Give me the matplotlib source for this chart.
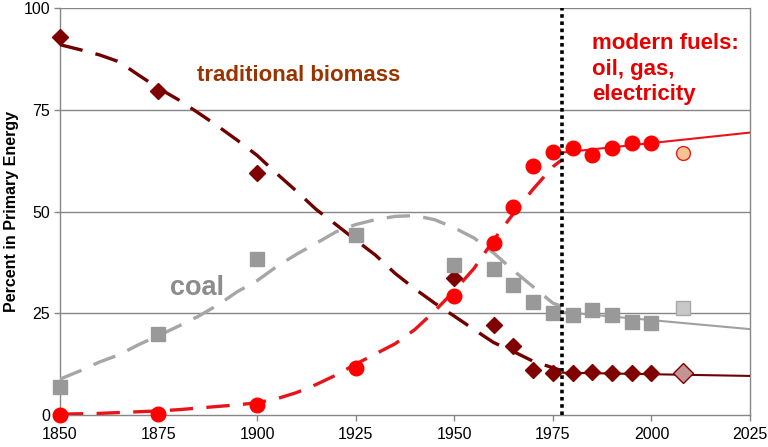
import matplotlib
matplotlib.use("Agg")
import matplotlib.pyplot as plt

plt.rcParams['font.family'] = ['Liberation Sans', 'DejaVu Sans']

# ---- observed data ----
years_obs = [1850, 1875, 1900, 1925, 1950, 1960, 1965, 1970, 1975, 1980, 1985, 1990, 1995, 2000]
biomass_years = [1850, 1875, 1900, 1950, 1960, 1965, 1970, 1975, 1980, 1985, 1990, 1995, 2000]
biomass_obs = [93, 79.5, 59.5, 33.7, 22.1, 17.0, 11.0, 10.3, 10.3, 10.5, 10.2, 10.2, 10.2]
coal_obs = [7, 20, 38.3, 44.2, 36.9, 35.9, 31.9, 27.8, 25.0, 24.6, 25.8, 24.5, 22.9, 22.6]
modern_obs = [0, 0.3, 2.5, 11.5, 29.3, 42.2, 51.1, 61.2, 64.6, 65.6, 63.9, 65.6, 66.8, 66.9]

# latest (pale) points
latest_year = 2008
biomass_latest = 10.2
coal_latest = 26.3
modern_latest = 64.3

# ---- historical trend curves (dashed) ----
trend_years = [1850, 1855, 1860, 1865, 1870, 1875, 1880, 1885, 1890, 1895, 1900,
               1905, 1910, 1915, 1920, 1925, 1930, 1935, 1940, 1945, 1950,
               1955, 1960, 1965, 1970, 1975, 1977]
biomass_trend = [91, 89.8, 88.5, 86.8, 83.5, 80.3, 77.5, 74.3, 71, 67.5, 63.8,
                 59.3, 55, 50.5, 46.8, 43, 39.3, 34.8, 31, 27.5, 24.3,
                 21, 17.8, 15.6, 13.2, 11.6, 11.0]
coal_trend = [8.8, 10.8, 13, 14.8, 17.3, 19.5, 21.8, 24.2, 27, 30.3, 33,
              36.5, 39.5, 42.2, 45, 46.8, 48, 48.8, 49, 48, 46,
              43.5, 39.8, 35.5, 31.5, 27.5, 26.8]
modern_trend = [0.2, 0.3, 0.4, 0.6, 0.8, 1.0, 1.3, 1.7, 2.1, 2.5, 3.0,
                4.0, 5.5, 7.5, 9.8, 12.5, 15, 17.5, 21, 25.5, 30.5,
                36, 43, 49.5, 55.5, 61, 62.5]

# ---- recent trend lines (solid) ----
recent_years = [1977.5, 2025]
biomass_recent = [10.4, 9.6]
coal_recent = [25.3, 21.1]
modern_recent = [64.5, 69.4]

divider_year = 1977.3

# ---- colors ----
c_bio = '#800000'
c_bio_line = '#700000'
c_coal = '#999999'
c_coal_line = '#a6a6a6'
c_mod = '#ff0000'
c_mod_line = '#e8141a'

fig = plt.figure(figsize=(7.68, 4.47), dpi=100)
ax = fig.add_axes([0.078, 0.0716, 0.8986, 0.9104])

# gridlines
for yv in [25, 50, 75, 100]:
    ax.axhline(yv, color='#868686', lw=1.0, zorder=0)

dash = (7, 4)
ax.plot(trend_years, biomass_trend, color=c_bio_line, lw=2.4, dashes=dash, zorder=3)
ax.plot(trend_years, coal_trend, color=c_coal_line, lw=2.4, dashes=dash, zorder=3)
ax.plot(trend_years, modern_trend, color=c_mod_line, lw=2.4, dashes=dash, zorder=3)

ax.plot(recent_years, biomass_recent, color=c_bio_line, lw=1.5, zorder=3)
ax.plot(recent_years, coal_recent, color='#a0a0a0', lw=1.5, zorder=3)
ax.plot(recent_years, modern_recent, color=c_mod_line, lw=1.5, zorder=3)

ax.plot(biomass_years, biomass_obs, linestyle='none', marker='D', ms=8.5,
        color=c_bio, mec=c_bio, zorder=4, clip_on=False)
ax.plot(years_obs, coal_obs, linestyle='none', marker='s', ms=10,
        color=c_coal, mec=c_coal, zorder=4, clip_on=False)
ax.plot(years_obs, modern_obs, linestyle='none', marker='o', ms=10.5,
        color=c_mod, mec=c_mod, zorder=4, clip_on=False)

ax.plot([latest_year], [biomass_latest], linestyle='none', marker='D', ms=10,
        color='#c49494', mec=c_bio, mew=1, zorder=5)
ax.plot([latest_year], [coal_latest], linestyle='none', marker='s', ms=10.5,
        color='#c8c8c8', mec='#a8a8a8', mew=1, zorder=5)
ax.plot([latest_year], [modern_latest], linestyle='none', marker='o', ms=10,
        color='#fac394', mec='#e02020', mew=1, zorder=5)

ax.axvline(divider_year, color='black', lw=2.6, linestyle=(0, (1, 1)), zorder=6)

ax.set_xlim(1850, 2025)
ax.set_ylim(0, 100)
ax.set_xticks([1850, 1875, 1900, 1925, 1950, 1975, 2000, 2025])
ax.set_yticks([0, 25, 50, 75, 100])
ax.tick_params(axis='both', labelsize=11.5, color='#868686', length=4, width=1, pad=3)
ax.tick_params(axis='x', pad=5)
ax.set_ylabel('Percent in Primary Energy', fontsize=11.5, fontweight='bold', labelpad=3)

for s in ['left', 'bottom', 'right']:
    ax.spines[s].set_color('#868686')
    ax.spines[s].set_linewidth(1)
ax.spines['top'].set_visible(False)

ax.text(1884.7, 83.4, 'traditional biomass', color='#993300', fontsize=16,
        fontweight='bold', ha='left', va='center')
ax.text(1878.0, 31.2, 'coal', color='#8c8c8c', fontsize=19.5,
        fontweight='bold', ha='left', va='center')
ax.text(1985.0, 85.0, 'modern fuels:\noil, gas,\nelectricity', color='#e60000',
        fontsize=16, fontweight='bold', ha='left', va='center', linespacing=1.3)

fig.savefig('out.png', dpi=100)
